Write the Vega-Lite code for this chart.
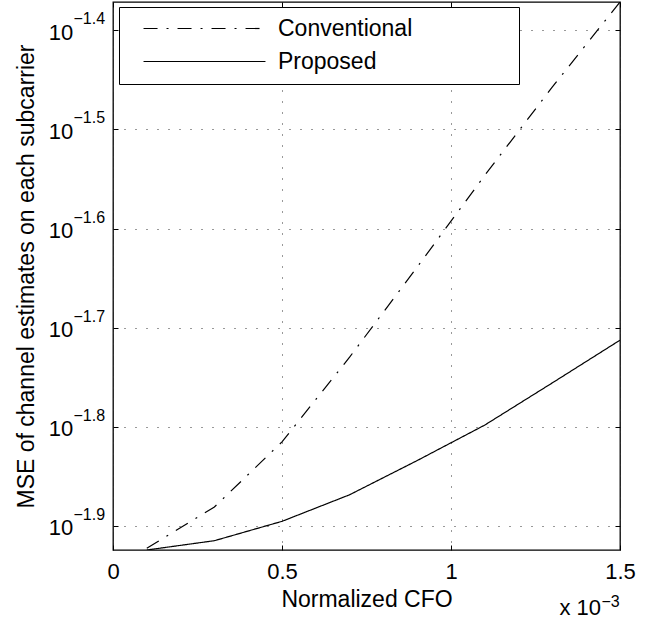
{
  "$schema": "https://vega.github.io/schema/vega-lite/v6.json",
  "width": 507,
  "height": 548,
  "autosize": "none",
  "padding": {"left": 113, "top": 2, "right": 37, "bottom": 76},
  "background": "white",
  "config": {
    "view": {"stroke": "black", "strokeWidth": 1.3},
    "font": "Liberation Sans",
    "axis": {
      "labelFont": "Liberation Sans",
      "labelColor": "black",
      "titleFont": "Liberation Sans",
      "titleFontWeight": "normal",
      "titleColor": "black",
      "tickColor": "black",
      "domain": false
    },
    "legend": {
      "orient": "none",
      "legendX": 6,
      "legendY": 5,
      "padding": 10,
      "strokeColor": "black",
      "fillColor": "white",
      "symbolType": "M-6,0H6",
      "symbolSize": 413,
      "symbolStrokeColor": "black",
      "symbolStrokeWidth": 1.2,
      "labelFont": "Liberation Sans",
      "labelFontSize": 23,
      "labelColor": "black",
      "labelLimit": 500,
      "labelOffset": 62,
      "symbolOffset": 64,
      "rowPadding": 9
    }
  },
  "layer": [
    {
      "data": {
        "values": [
          {"cfo": 0.1, "mse": 0.01195, "scheme": "Conventional"},
          {"cfo": 0.3, "mse": 0.01315, "scheme": "Conventional"},
          {"cfo": 0.5, "mse": 0.01530, "scheme": "Conventional"},
          {"cfo": 0.7, "mse": 0.01863, "scheme": "Conventional"},
          {"cfo": 0.9, "mse": 0.02297, "scheme": "Conventional"},
          {"cfo": 1.1, "mse": 0.02843, "scheme": "Conventional"},
          {"cfo": 1.3, "mse": 0.03491, "scheme": "Conventional"},
          {"cfo": 1.5, "mse": 0.04253, "scheme": "Conventional"},
          {"cfo": 0.1, "mse": 0.01190, "scheme": "Proposed"},
          {"cfo": 0.3, "mse": 0.01216, "scheme": "Proposed"},
          {"cfo": 0.5, "mse": 0.01272, "scheme": "Proposed"},
          {"cfo": 0.7, "mse": 0.01353, "scheme": "Proposed"},
          {"cfo": 0.9, "mse": 0.01465, "scheme": "Proposed"},
          {"cfo": 1.1, "mse": 0.01591, "scheme": "Proposed"},
          {"cfo": 1.3, "mse": 0.01755, "scheme": "Proposed"},
          {"cfo": 1.5, "mse": 0.01938, "scheme": "Proposed"}
        ]
      },
      "mark": {"type": "line", "color": "black", "strokeWidth": 1.2, "clip": true},
      "encoding": {
        "x": {
          "field": "cfo", "type": "quantitative",
          "scale": {"domain": [0, 1.5], "nice": false, "zero": false},
          "axis": {
            "orient": "bottom",
            "values": [0, 0.5, 1, 1.5],
            "format": "~g",
            "labelFontSize": 22,
            "labelPadding": 16.5,
            "labelFlush": false,
            "tickSize": -5,
            "grid": true,
            "gridColor": "#333",
            "gridDash": [1, 10],
            "gridWidth": 1,
            "title": "Normalized CFO",
            "titleFontSize": 23,
            "titleBaseline": "alphabetic",
            "titleX": 253.5,
            "titleY": 56
          }
        },
        "y": {
          "field": "mse", "type": "quantitative",
          "scale": {"type": "log", "domain": [0.0119, 0.04253], "nice": false, "zero": false},
          "axis": {
            "orient": "left",
            "values": [0.012589254, 0.015848932, 0.019952623, 0.025118864, 0.031622777, 0.039810717],
            "labelExpr": "'10'",
            "labelFontSize": 22,
            "labelAlign": "right",
            "labelBaseline": "alphabetic",
            "labelOffset": 9,
            "labelPadding": 45.3,
            "tickSize": -5,
            "grid": true,
            "gridColor": "#333",
            "gridDash": [1, 10],
            "gridWidth": 1,
            "title": "MSE of channel estimates on each subcarrier",
            "titleFontSize": 23,
            "titleAngle": -90,
            "titleBaseline": "alphabetic",
            "titleX": -80,
            "titleY": 274
          }
        },
        "strokeDash": {
          "field": "scheme", "type": "nominal",
          "scale": {"domain": ["Conventional", "Proposed"], "range": [[14, 9, 2, 9], [1, 0]]},
          "legend": {
            "title": null,
            "labelExpr": "datum.label + '\u00a0\u00a0\u00a0\u00a0\u00a0\u00a0\u00a0\u00a0\u00a0\u00a0\u00a0\u00a0\u00a0\u00a0\u00a0\u200b'"
          }
        }
      }
    },
    {
      "data": {
        "values": [
          {"v": 0.012589254, "e": "−1.9"},
          {"v": 0.015848932, "e": "−1.8"},
          {"v": 0.019952623, "e": "−1.7"},
          {"v": 0.025118864, "e": "−1.6"},
          {"v": 0.031622777, "e": "−1.5"},
          {"v": 0.039810717, "e": "−1.4"}
        ]
      },
      "mark": {"type": "text", "align": "left", "baseline": "alphabetic", "fontSize": 16, "dx": -39.5, "dy": -6, "color": "black"},
      "encoding": {
        "x": {
          "datum": 0, "type": "quantitative",
          "axis": {"orient": "top", "values": [0, 0.5, 1, 1.5], "labels": false, "tickSize": -5, "grid": false, "title": null}
        },
        "y": {
          "field": "v", "type": "quantitative",
          "axis": {"orient": "right", "values": [0.012589254, 0.015848932, 0.019952623, 0.025118864, 0.031622777, 0.039810717], "labels": false, "tickSize": -5, "grid": false, "title": null}
        },
        "text": {"field": "e"}
      }
    },
    {
      "data": {"values": [{"x": 1.5, "y": 0.0119, "t": "x 10", "e": "−3"}]},
      "layer": [
        {
          "mark": {"type": "text", "align": "right", "baseline": "alphabetic", "fontSize": 22, "dx": -19, "dy": 65, "color": "black"},
          "encoding": {
            "x": {"field": "x", "type": "quantitative", "axis": null},
            "y": {"field": "y", "type": "quantitative", "axis": null},
            "text": {"field": "t"}
          }
        },
        {
          "mark": {"type": "text", "align": "left", "baseline": "alphabetic", "fontSize": 16, "dx": -18.5, "dy": 57, "color": "black"},
          "encoding": {
            "x": {"field": "x", "type": "quantitative", "axis": null},
            "y": {"field": "y", "type": "quantitative", "axis": null},
            "text": {"field": "e"}
          }
        }
      ]
    }
  ],
  "resolve": {"axis": {"x": "independent", "y": "independent"}}
}
